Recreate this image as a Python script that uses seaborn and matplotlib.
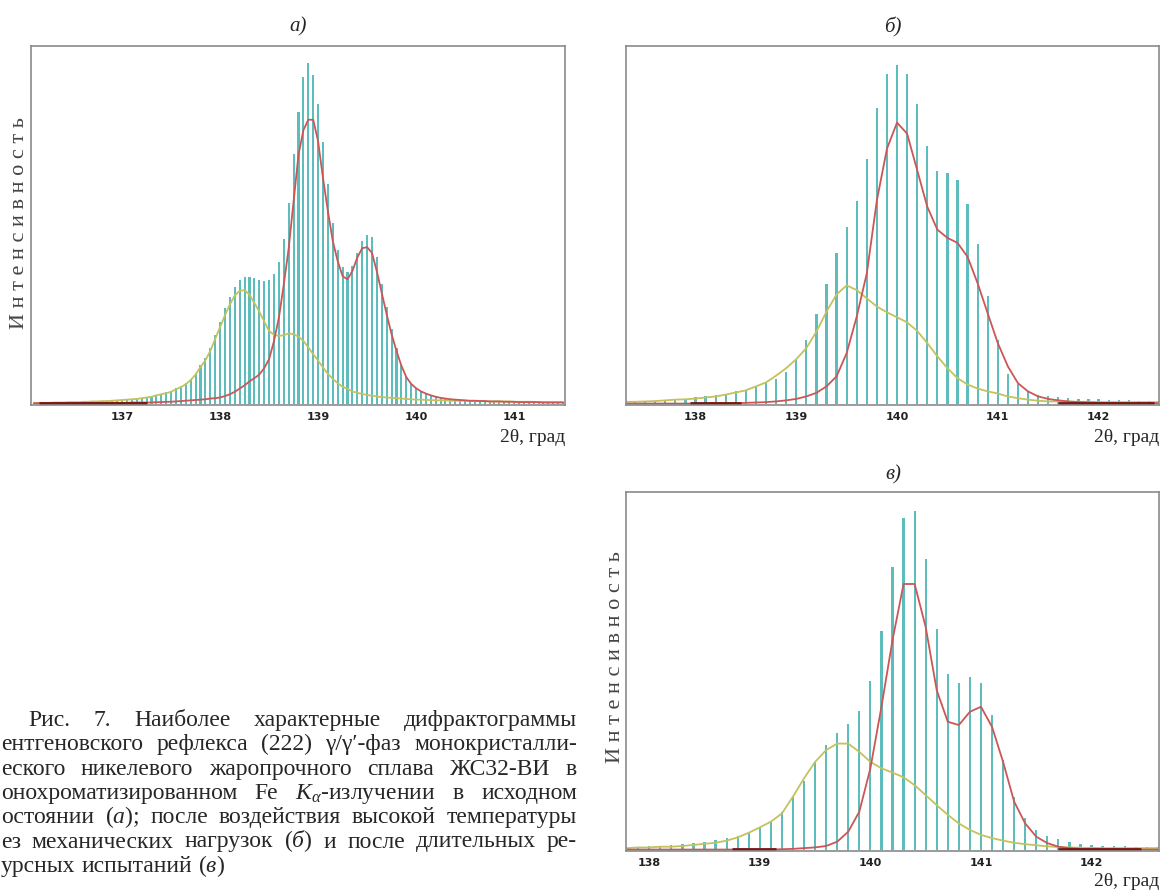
import numpy as np
import matplotlib
matplotlib.use("Agg")
import matplotlib.pyplot as plt
from matplotlib.transforms import IdentityTransform
import seaborn as sns

W, H = 1161, 892

# ---- panel a) : step 0.05 deg ----
THETA_A = np.round(np.arange(136.10, 141.501, 0.05), 2)
I_A = [
    0.3, 0.3, 0.3, 0.3, 0.4, 0.4, 0.4, 0.5, 0.5, 0.5,
    0.6, 0.6, 0.7, 0.7, 0.8, 0.9, 0.9, 1.0, 1.1, 1.2,
    1.3, 1.5, 1.7, 1.9, 2.1, 2.6, 2.9, 3.2, 3.5, 4.5,
    4.9, 5.8, 7.1, 8.6, 11.0, 12.8, 15.6, 19.3, 23.0, 26.7,
    30.0, 32.8, 34.6, 35.4, 35.4, 35.1, 34.6, 34.4, 34.6, 36.2,
    39.7, 46.2, 56.2, 69.8, 81.7, 91.3, 95.2, 91.9, 83.7, 73.2,
    61.5, 50.6, 43.0, 38.3, 36.9, 38.6, 42.1, 45.5, 47.2, 46.6,
    41.0, 33.5, 27.0, 21.0, 15.5, 11.0, 7.8, 5.7, 4.5, 3.7,
    3.1, 2.6, 2.2, 1.9, 1.6, 1.4, 1.3, 1.2, 1.1, 1.0,
    1.0, 0.9, 0.9, 0.8, 0.8, 0.8, 0.7, 0.7, 0.7, 0.6,
    0.6, 0.6, 0.6, 0.5, 0.5, 0.5, 0.5, 0.5, 0.5,
]
RED_A = [
    0.2, 0.2, 0.2, 0.2, 0.2, 0.2, 0.2, 0.2, 0.2, 0.2,
    0.3, 0.3, 0.3, 0.3, 0.3, 0.3, 0.3, 0.3, 0.3, 0.3,
    0.4, 0.4, 0.4, 0.4, 0.4, 0.5, 0.5, 0.6, 0.6, 0.7,
    0.8, 0.9, 1.0, 1.1, 1.2, 1.3, 1.5, 1.6, 1.8, 2.2,
    2.7, 3.4, 4.3, 5.2, 6.3, 7.2, 8.2, 10.0, 12.5, 17.6,
    24.1, 33.4, 43.5, 56.6, 69.6, 76.5, 79.4, 79.4, 73.4, 63.1,
    53.9, 45.5, 39.9, 35.7, 34.8, 37.1, 40.9, 43.5, 43.8, 42.2,
    37.0, 31.0, 25.0, 19.5, 14.8, 10.7, 7.5, 5.6, 4.4, 3.5,
    2.9, 2.4, 2.0, 1.7, 1.5, 1.3, 1.2, 1.1, 1.0, 0.9,
    0.9, 0.8, 0.8, 0.7, 0.7, 0.7, 0.6, 0.6, 0.6, 0.5,
    0.5, 0.5, 0.5, 0.5, 0.4, 0.4, 0.4, 0.4, 0.4,
]
OLIVE_A = [
    0.3, 0.3, 0.3, 0.3, 0.4, 0.4, 0.4, 0.5, 0.5, 0.5,
    0.6, 0.6, 0.7, 0.7, 0.8, 0.8, 0.9, 1.0, 1.1, 1.2,
    1.3, 1.4, 1.6, 1.8, 2.0, 2.4, 2.7, 3.0, 3.4, 4.1,
    4.7, 5.5, 6.7, 8.2, 10.3, 12.2, 14.8, 18.2, 21.5, 24.8,
    27.8, 30.3, 31.6, 31.8, 30.5, 28.2, 25.8, 23.0, 20.4, 19.3,
    19.0, 19.2, 19.7, 19.5, 18.8, 17.6, 15.8, 13.9, 12.1, 10.2,
    8.4, 7.0, 5.8, 4.8, 4.2, 3.5, 3.1, 2.8, 2.5, 2.3,
    2.1, 1.9, 1.8, 1.7, 1.6, 1.5, 1.4, 1.3, 1.2, 1.2,
    1.1, 1.1, 1.0, 1.0, 1.0, 0.9, 0.9, 0.9, 0.9, 0.8,
    0.8, 0.8, 0.8, 0.7, 0.7, 0.7, 0.7, 0.7, 0.6, 0.6,
    0.6, 0.6, 0.6, 0.5, 0.5, 0.5, 0.5, 0.5, 0.5,
]
BASE_A = [(136.15, 137.25)]

# ---- panel б) : step 0.1 deg ----
THETA_B = np.round(np.arange(137.3, 142.61, 0.1), 1)
I_B = [
    0.0, 0.7, 0.8, 0.8, 0.9, 1.0, 1.4, 1.9, 2.1, 2.4,
    2.8, 3.5, 4.0, 4.9, 5.8, 7.0, 8.8, 12.3, 17.9, 25.1,
    33.6, 42.2, 49.3, 56.6, 68.4, 82.6, 92.2, 94.7, 92.2, 83.7,
    72.1, 65.2, 64.4, 62.7, 55.8, 44.7, 30.1, 17.9, 8.5, 5.5,
    3.5, 2.6, 2.1, 1.9, 1.7, 1.5, 1.4, 1.3, 1.2, 1.1,
    1.0, 0.9, 0.8, 0.7,
]
RED_B = [
    0.1, 0.1, 0.1, 0.1, 0.1, 0.1, 0.1, 0.1, 0.1, 0.2,
    0.2, 0.2, 0.3, 0.4, 0.5, 0.7, 1.0, 1.4, 2.1, 3.1,
    4.9, 7.7, 14.2, 24.4, 36.5, 56.9, 71.3, 78.6, 75.5, 65.3,
    55.1, 48.7, 46.4, 45.0, 41.1, 33.7, 25.3, 17.0, 10.5, 5.8,
    3.5, 2.1, 1.4, 1.0, 0.7, 0.5, 0.4, 0.3, 0.3, 0.3,
    0.2, 0.2, 0.2, 0.2,
]
OLIVE_B = [
    0.6, 0.6, 0.7, 0.8, 1.0, 1.2, 1.3, 1.5, 1.8, 2.1,
    2.6, 3.2, 3.8, 4.9, 6.0, 7.9, 10.0, 12.5, 15.6, 20.2,
    25.8, 30.6, 33.1, 31.8, 29.5, 27.2, 25.6, 24.2, 22.8, 20.4,
    17.0, 13.3, 10.0, 7.2, 5.4, 4.3, 3.5, 2.9, 2.1, 1.6,
    1.2, 0.9, 0.7, 0.7, 0.6, 0.6, 0.6, 0.5, 0.5, 0.5,
    0.5, 0.5, 0.5, 0.5,
]
BASE_B = [(137.95, 138.45), (141.6, 142.55)]

# ---- panel в) : step 0.1 deg ----
THETA_C = np.round(np.arange(137.8, 142.61, 0.1), 1)
I_C = [
    0.0, 0.9, 1.1, 1.2, 1.4, 1.7, 2.0, 2.3, 2.8, 3.3,
    3.9, 4.8, 6.0, 7.9, 10.7, 14.9, 19.2, 24.6, 29.3, 32.7,
    35.3, 38.8, 47.2, 61.2, 79.0, 92.8, 94.6, 81.3, 61.6, 49.1,
    46.7, 48.3, 46.7, 37.6, 25.1, 14.9, 8.8, 5.6, 3.9, 3.0,
    2.1, 1.7, 1.4, 1.2, 1.1, 1.0, 0.9, 0.8, 0.7,
]
RED_C = [
    0.1, 0.1, 0.1, 0.1, 0.1, 0.1, 0.1, 0.1, 0.1, 0.1,
    0.1, 0.1, 0.1, 0.1, 0.2, 0.3, 0.5, 0.7, 1.1, 2.3,
    5.1, 10.7, 22.8, 40.0, 58.6, 74.3, 74.3, 62.3, 44.6, 35.8,
    34.9, 38.6, 40.0, 34.4, 24.6, 13.5, 7.4, 3.7, 1.9, 0.9,
    0.5, 0.3, 0.2, 0.2, 0.2, 0.1, 0.1, 0.1, 0.1,
]
OLIVE_C = [
    0.5, 0.7, 0.7, 0.9, 0.9, 1.1, 1.4, 1.7, 2.0, 2.6,
    3.5, 4.8, 6.3, 7.9, 10.2, 14.9, 20.0, 24.6, 27.9, 29.7,
    29.7, 27.4, 24.6, 22.8, 21.6, 20.3, 18.1, 15.3, 12.5, 9.8,
    7.4, 5.6, 4.2, 3.3, 2.6, 2.0, 1.6, 1.3, 1.0, 0.8,
    0.7, 0.6, 0.6, 0.5, 0.5, 0.5, 0.5, 0.5, 0.5,
]
BASE_C = [(138.75, 139.15), (141.7, 142.45)]

TICKS_A = [137, 138, 139, 140, 141]
TICKS_BC = [138, 139, 140, 141, 142]

# caption as it is visible in the source (its left edge is cut in the scan)
CAPTION = [
    "Рис. 7. Наиболее характерные дифрактограммы",
    "ентгеновского рефлекса (222) γ/γ′-фаз монокристалли-",
    "еского никелевого жаропрочного сплава ЖС32-ВИ в",
    "онохроматизированном Fe $K_{\\alpha}$-излучении в исходном",
    "остоянии ($а$); после воздействия высокой температуры",
    "ез механических нагрузок ($б$) и после длительных ре-",
    "урсных испытаний ($в$)",
]
YLABEL = "И н т е н с и в н о с т ь"
XLABEL = "2θ, град"

TEAL = "#5dbdbd"
RED = "#cc5656"
OLIVE = "#c4c25c"
DARK = "#7a1512"
GRAY = "#8a8a8a"
SERIF = ["Liberation Serif", "DejaVu Serif"]

sns.set_style("white")
plt.rcParams["mathtext.fontset"] = "custom"
plt.rcParams["mathtext.rm"] = "Liberation Serif"
plt.rcParams["mathtext.it"] = "Liberation Serif:italic"
plt.rcParams["mathtext.bf"] = "Liberation Serif:bold"

fig = plt.figure(figsize=(W / 100, H / 100), dpi=100)
PX = IdentityTransform()


def px_axes(left, top, right, bottom):
    return fig.add_axes([left / W, 1 - bottom / H, (right - left) / W, (bottom - top) / H])


def draw_panel(ax, theta, counts, red, olive, base, xlim, ticks, width):
    sns.barplot(x=theta, y=counts, native_scale=True, width=width, color=TEAL,
                saturation=1, errorbar=None, linewidth=0, orient="x", ax=ax)
    sns.lineplot(x=theta, y=olive, color=OLIVE, lw=1.3, ax=ax)
    sns.lineplot(x=theta, y=red, color=RED, lw=1.3, ax=ax)
    for a, b in base:
        ax.hlines(0.3, a, b, color=DARK, lw=2)
    ax.set_xlim(*xlim)
    ax.set_ylim(-0.3, 100)
    ax.set_xticks(ticks)
    ax.set_xticklabels([str(t) for t in ticks], fontweight="bold",
                       family="DejaVu Sans", color="#222222")
    ax.set_yticks([])
    ax.set_xlabel("")
    ax.set_ylabel("")
    ax.tick_params(axis="x", direction="out", length=3, width=1, color=GRAY,
                   labelsize=8, pad=2)
    for s in ax.spines.values():
        s.set_visible(True)
        s.set_color(GRAY)
        s.set_linewidth(1.2)


ax_a = px_axes(31, 46, 565, 405)
draw_panel(ax_a, THETA_A, I_A, RED_A, OLIVE_A, BASE_A, (136.07, 141.52), TICKS_A, 0.42)
ax_b = px_axes(626, 46, 1159, 405)
draw_panel(ax_b, THETA_B, I_B, RED_B, OLIVE_B, BASE_B, (137.31, 142.60), TICKS_BC, 0.22)
ax_c = px_axes(626, 492, 1159, 851)
draw_panel(ax_c, THETA_C, I_C, RED_C, OLIVE_C, BASE_C, (137.79, 142.61), TICKS_BC, 0.2)

# panel titles, axis labels
for x, y, s in [(298, 27, "а)"), (893, 27, "б)"), (893, 475, "в)")]:
    fig.text(x, H - y, s, transform=PX, ha="center", va="center",
             fontsize=15, style="italic", family=SERIF)
for x, y in [(565, 437), (1159, 437), (1159, 882)]:
    fig.text(x, H - y, XLABEL, transform=PX, ha="right", va="center",
             fontsize=14, family=SERIF)
for x, y in [(20, 223), (615, 657)]:
    fig.text(x, H - y, YLABEL, transform=PX, ha="center", va="center",
             rotation=90, fontsize=16, family=SERIF, color="#444444")

# justified caption
renderer = fig.canvas.get_renderer()
for i, line in enumerate(CAPTION):
    yb = H - (726 + 24.3 * i)
    words = line.split()
    x0 = 28 if i == 0 else 1
    x1 = 577
    items = [fig.text(0, yb, w, transform=PX, ha="left", va="baseline",
                      fontsize=17, family=SERIF) for w in words]
    widths = [t.get_window_extent(renderer).width for t in items]
    if i < len(CAPTION) - 1:
        gap = (x1 - x0 - sum(widths)) / (len(words) - 1)
    else:
        gap = 6
    x = x0
    for t, w in zip(items, widths):
        t.set_x(x)
        x += w + gap

fig.savefig("out.png", dpi=100)
